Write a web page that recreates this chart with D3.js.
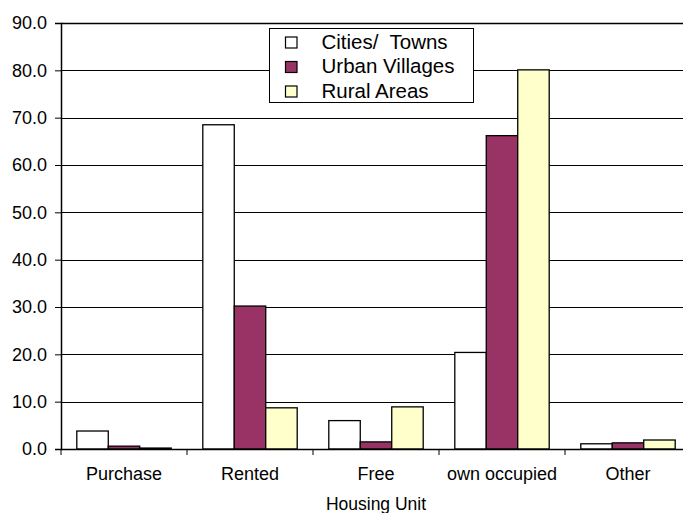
<!DOCTYPE html>
<html>
<head>
<meta charset="utf-8">
<script src="https://cdn.jsdelivr.net/npm/d3@7/dist/d3.min.js"></script>
<style>
  html, body { margin: 0; padding: 0; background: #fff; }
  svg { display: block; font-family: "Liberation Sans", Arial, sans-serif; }
</style>
</head>
<body>
<svg id="chart" width="683" height="513"></svg>
<script>
const categories = ["Purchase", "Rented", "Free", "own occupied", "Other"];
const seriesNames = ["Cities/  Towns", "Urban Villages", "Rural Areas"];
const cities = [3.8, 68.5, 6.0, 20.4, 1.1];
const urbanVillages = [0.6, 30.2, 1.5, 66.2, 1.3];
const ruralAreas = [0.2, 8.7, 8.9, 80.1, 1.9];
const yTickValues = [0, 10, 20, 30, 40, 50, 60, 70, 80, 90];
const xTitle = "Housing Unit";
const colors = ["#FFFFFF", "#993366", "#FFFFCC"];

(function () {
const seriesValues = [cities, urbanVillages, ruralAreas];
const svg = d3.select("#chart");
const pLeft = 61, pRight = 691, pTop = 23, pBottom = 449;

const y = d3.scaleLinear().domain([0, 90]).range([pBottom, pTop]);
const x0 = d3.scaleBand().domain(categories).range([pLeft, pRight]).padding(0);
const bw = x0.bandwidth();
const x1 = d3.scaleBand().domain(seriesNames).range([bw * 0.1254, bw * 0.8746]).padding(0);

// gridlines
svg.append("g").selectAll("line").data(yTickValues.filter(d => d > 0)).join("line")
  .attr("x1", pLeft).attr("x2", pRight)
  .attr("y1", d => Math.round(y(d)) + 0.5).attr("y2", d => Math.round(y(d)) + 0.5)
  .attr("stroke", "#000").attr("stroke-width", d => d === 90 ? 1.6 : 1);

// bars
const rows = categories.map((c, i) => ({ c, vals: seriesNames.map((s, j) => ({ s, j, v: seriesValues[j][i] })) }));
svg.append("g").selectAll("g").data(rows).join("g")
  .attr("transform", d => `translate(${x0(d.c)},0)`)
  .selectAll("rect").data(d => d.vals).join("rect")
  .attr("x", d => x1(d.s))
  .attr("width", x1.bandwidth())
  .attr("y", d => y(d.v))
  .attr("height", d => pBottom - y(d.v))
  .attr("fill", d => colors[d.j])
  .attr("stroke", "#000").attr("stroke-width", 1.3);

// y axis
const yAxis = d3.axisLeft(y).tickValues(yTickValues).tickFormat(d3.format(".1f")).tickSize(6).tickPadding(8);
const gy = svg.append("g").attr("transform", `translate(${pLeft},0)`).call(yAxis);
gy.select(".domain").attr("stroke", "#000").attr("stroke-width", 1.5);
gy.selectAll(".tick line").attr("stroke", "#000");
gy.selectAll("text").attr("font-size", 18).attr("fill", "#000")
  .attr("font-family", "Liberation Sans, Arial, sans-serif");

// x axis
const xAxis = d3.axisBottom(x0).tickSize(0).tickPadding(18);
const gx = svg.append("g").attr("transform", `translate(0,${pBottom})`).call(xAxis);
gx.select(".domain").attr("stroke", "#000").attr("stroke-width", 1.5);
gx.selectAll("text").attr("font-size", 18).attr("fill", "#000")
  .attr("font-family", "Liberation Sans, Arial, sans-serif");
// category separator ticks
svg.append("g").selectAll("line").data(categories).join("line")
  .attr("x1", d => x0(d)).attr("x2", d => x0(d))
  .attr("y1", pBottom).attr("y2", pBottom + 6)
  .attr("stroke", "#000").attr("stroke-width", 1);

// x title
svg.append("text").attr("x", (pLeft + pRight) / 2).attr("y", 510)
  .attr("text-anchor", "middle").attr("font-size", 17.5).attr("fill", "#000").text(xTitle);

// legend
const lg = svg.append("g");
lg.append("rect").attr("x", 269.5).attr("y", 28.5).attr("width", 204).attr("height", 74)
  .attr("fill", "#fff").attr("stroke", "#000").attr("stroke-width", 1);
const items = lg.selectAll("g.item").data(seriesNames).join("g").attr("class", "item")
  .attr("transform", (d, i) => `translate(0,${i * 24.5})`);
items.append("rect").attr("x", 285.5).attr("y", 37).attr("width", 11.5).attr("height", 11)
  .attr("fill", (d, i) => colors[i]).attr("stroke", "#000").attr("stroke-width", 1.2);
items.append("text").attr("x", 321.5).attr("y", 48.5).attr("font-size", 20.5).attr("fill", "#000")
  .style("white-space", "pre").text(d => d);
})();
</script>
</body>
</html>
